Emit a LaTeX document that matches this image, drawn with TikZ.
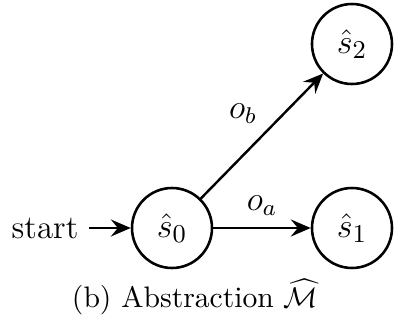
\documentclass[tikz,border=0pt]{standalone}
\usetikzlibrary{arrows.meta}
\begin{document}
\begin{tikzpicture}[x=0.351pt,y=-0.351pt,
  every node/.style={font=\fontsize{11.6}{14}\selectfont},
  state/.style={circle,draw,line width=0.9pt,minimum size=80*0.351pt,inner sep=0pt,font=\fontsize{12.6}{15}\selectfont},
  edge/.style={line width=0.85pt,-{Stealth[length=7pt,width=6pt,inset=2.5pt]}}]
\useasboundingbox (0,0) rectangle (395,324);
\node[state] (s0) at (172,228) {$\hat{s}_0$};
\node[state] (s1) at (352,228) {$\hat{s}_1$};
\node[state] (s2) at (352,44) {$\hat{s}_2$};
\node[anchor=east,inner sep=0pt] (start) at (79,228) {start};
\draw[edge] ([xshift=10*0.351pt]start.east) -- (s0);
\draw[edge] (s0) -- (s1);
\draw[edge] (s0) -- (s2);
\node (oa) at (262,206) {$o_a$};
\node (ob) at (243,114) {$o_b$};
\node[font=\fontsize{10.4}{13}\selectfont] (cap) at (195,297) {(b) Abstraction $\widehat{\mathcal{M}}$};
\end{tikzpicture}
\end{document}
